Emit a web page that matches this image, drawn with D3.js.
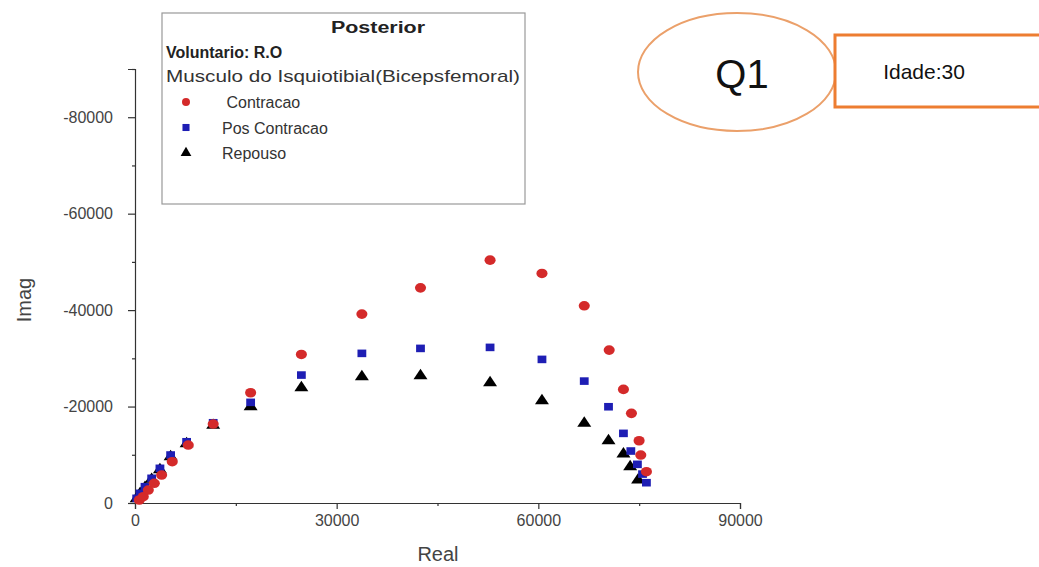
<!DOCTYPE html>
<html>
<head>
<meta charset="utf-8">
<script src="https://cdn.jsdelivr.net/npm/d3@7"></script>
<style>
  html, body { margin: 0; padding: 0; background: #fff; }
  svg { display: block; }
  text { font-family: "Liberation Sans", Arial, sans-serif; }
</style>
</head>
<body>
<svg id="chart" width="1039" height="567"></svg>
<script>
// Impedance spectra (Nyquist plot), hamstring muscle, three conditions
const realContracao = [640, 1230, 1980, 2870, 3960, 5540, 7920, 11630, 17200, 24750, 33750, 42470, 52820, 60540, 66830, 70540, 72660, 73850, 74990, 75240, 76080];
const imagContracao = [-620, -1310, -2690, -4080, -5800, -8560, -12020, -16370, -22860, -30800, -39170, -44620, -50360, -47600, -40890, -31710, -23560, -18590, -12910, -9950, -6490];

const realPosContracao = [250, 740, 1490, 2480, 3710, 5300, 7680, 11630, 17200, 24750, 33750, 42470, 52820, 60540, 66830, 70440, 72660, 73760, 74740, 75500, 76080];
const imagPosContracao = [-970, -2010, -3380, -5120, -7190, -9950, -12700, -16640, -20870, -26530, -31030, -32060, -32270, -29780, -25280, -19960, -14440, -10780, -8020, -6000, -4210];

const realRepouso = [250, 740, 1490, 2480, 3710, 5300, 7680, 11630, 17200, 24750, 33750, 42470, 52820, 60540, 66830, 70440, 72660, 73660, 74840];
const imagRepouso = [-900, -1900, -3200, -4900, -6900, -9600, -12300, -16100, -19960, -23900, -26180, -26380, -24930, -21200, -16520, -12910, -10160, -7530, -4770];

const xTicks = [0, 30000, 60000, 90000];
const xMinorTicks = [15000, 45000, 75000];
const yTicks = [0, -20000, -40000, -60000, -80000];
const yMinorTicks = [-10000, -30000, -50000, -70000, -90000];

const legendTitle = "Posterior";
const legendSubject = "Voluntario: R.O";
const legendMuscle = "Musculo do Isquiotibial(Bicepsfemoral)";
const seriesNames = [" Contracao", "Pos Contracao", "Repouso"];
const groupLabel = "Q1";
const ageLabel = "Idade:30";

const svg = d3.select("#chart");

const x = d3.scaleLinear().domain([0, 90000]).range([135, 740]);
const y = d3.scaleLinear().domain([0, -90000]).range([503, 69]);

const axisColor = "#333";
const labelColor = "#444";
// plain hyphen for negative numbers
const fmt = d => String(d);

// X axis
const gx = svg.append("g").attr("transform", `translate(0,${y(0)})`);
gx.call(d3.axisBottom(x).tickValues(xTicks).tickFormat(fmt).tickSize(6).tickPadding(6));
gx.append("g").call(d3.axisBottom(x).tickValues(xMinorTicks).tickFormat("").tickSize(3))
  .select(".domain").remove();
gx.selectAll(".domain").attr("stroke", axisColor).attr("stroke-width", 1.2);
gx.selectAll(".tick line").attr("stroke", axisColor).attr("stroke-width", 1.2);
gx.selectAll(".tick text").attr("fill", labelColor).style("font-size", "16px")
  .style("font-family", '"Liberation Sans", Arial, sans-serif');

// Y axis (negative imaginary part grows upward)
const gy = svg.append("g").attr("transform", `translate(${x(0)},0)`);
gy.call(d3.axisLeft(y).tickValues(yTicks).tickFormat(fmt).tickSize(7).tickPadding(15));
gy.append("g").call(d3.axisLeft(y).tickValues(yMinorTicks).tickFormat("").tickSize(3))
  .select(".domain").remove();
gy.selectAll(".domain").attr("stroke", axisColor).attr("stroke-width", 1.2);
gy.selectAll(".tick line").attr("stroke", axisColor).attr("stroke-width", 1.2);
gy.selectAll(".tick text").attr("fill", labelColor).style("font-size", "16px")
  .style("font-family", '"Liberation Sans", Arial, sans-serif');

// Axis titles
svg.append("text").attr("x", 438).attr("y", 561).attr("text-anchor", "middle")
  .attr("fill", labelColor).style("font-size", "20px").text("Real");
svg.append("text").attr("transform", "translate(31,300) rotate(-90)").attr("text-anchor", "middle")
  .attr("fill", labelColor).style("font-size", "20px").text("Imag");

// Markers
const red = "#d42a2a", blue = "#1e1eb4", black = "#000";
const sym = {
  circle: d3.symbol().type(d3.symbolCircle).size(80),
  square: d3.symbol().type(d3.symbolSquare).size(64),
  triangle: d3.symbol().type(d3.symbolTriangle).size(70)
};

function drawSeries(xs, ys, path, color) {
  svg.append("g").selectAll("path")
    .data(xs.map((v, i) => [v, ys[i]]))
    .join("path")
    .attr("d", path)
    .attr("fill", color)
    .attr("transform", d => `translate(${x(d[0])},${y(d[1])}) scale(1.1,0.95)`);
}
drawSeries(realRepouso, imagRepouso, sym.triangle(), black);
drawSeries(realPosContracao, imagPosContracao, sym.square(), blue);
drawSeries(realContracao, imagContracao, sym.circle(), red);

// Legend
const lg = svg.append("g");
lg.append("rect").attr("x", 162).attr("y", 13).attr("width", 363).attr("height", 191)
  .attr("fill", "#fff").attr("stroke", "#999").attr("stroke-width", 1.2);
lg.append("text").attr("x", 378).attr("y", 33).attr("text-anchor", "middle")
  .attr("fill", "#222").style("font-size", "16px").style("font-weight", "bold")
  .attr("textLength", 94).attr("lengthAdjust", "spacingAndGlyphs").text(legendTitle);
lg.append("text").attr("x", 166).attr("y", 58)
  .attr("fill", "#222").style("font-size", "16px").style("font-weight", "bold").text(legendSubject);
lg.append("text").attr("x", 166).attr("y", 82)
  .attr("fill", "#333").style("font-size", "17px")
  .attr("textLength", 354).attr("lengthAdjust", "spacingAndGlyphs").text(legendMuscle);
const legendSyms = [[sym.circle, red], [sym.square, blue], [sym.triangle, black]];
seriesNames.forEach((name, i) => {
  const yy = 102 + i * 25.5;
  lg.append("path").attr("d", legendSyms[i][0].size(50)())
    .attr("fill", legendSyms[i][1])
    .attr("transform", `translate(186,${yy})`);
  lg.append("text").attr("x", 222).attr("y", yy + 6)
    .attr("fill", "#333").style("font-size", "16px").attr("xml:space", "preserve").text(name);
});

// Group annotation
svg.append("ellipse").attr("cx", 737).attr("cy", 72).attr("rx", 99).attr("ry", 59)
  .attr("fill", "#fff").attr("stroke", "#eba06a").attr("stroke-width", 2);
svg.append("rect").attr("x", 835).attr("y", 35).attr("width", 220).attr("height", 72)
  .attr("fill", "#fff").attr("stroke", "#ed7d31").attr("stroke-width", 3);
svg.append("text").attr("x", 742).attr("y", 88).attr("text-anchor", "middle")
  .attr("fill", "#111").style("font-size", "40px").text(groupLabel);
svg.append("text").attr("x", 924).attr("y", 79).attr("text-anchor", "middle")
  .attr("fill", "#111").style("font-size", "21px").text(ageLabel);
</script>
</body>
</html>
